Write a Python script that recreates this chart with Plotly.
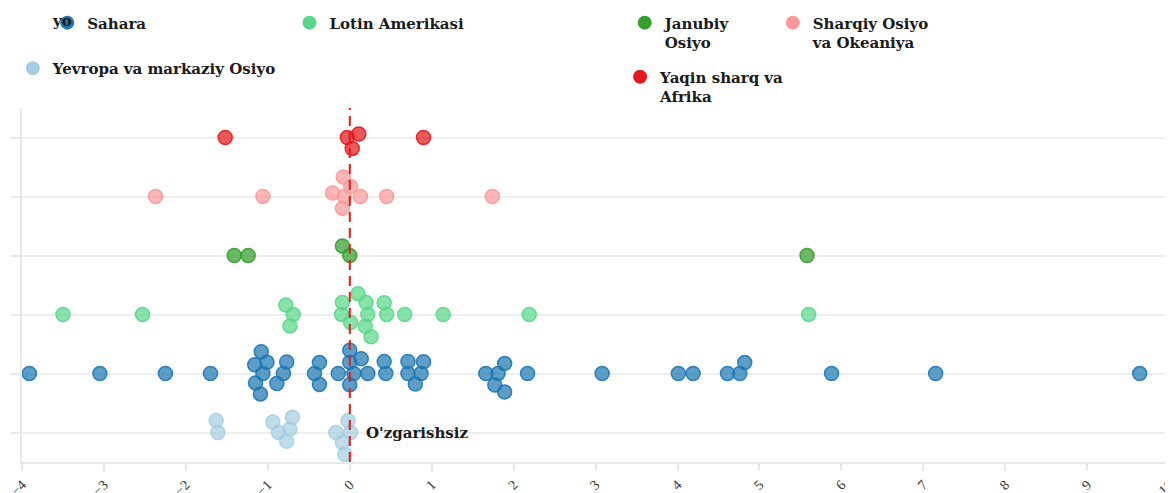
import numpy as np
import plotly.graph_objects as go

# the page adds an 8px body margin, so the figure is drawn 8px smaller
PAGE_PAD = 8
W, H = 1173 - PAGE_PAD, 493 - PAGE_PAD
MARGIN = dict(l=22 - PAGE_PAD, r=3, t=108 - PAGE_PAD, b=31, autoexpand=False)
X_RANGE = [-4, 10.01]

# categories, bottom row first
regions = [
    "Yevropa va markaziy Osiyo",
    "Sahara",
    "Lotin Amerikasi",
    "Janubiy Osiyo",
    "Sharqiy Osiyo va Okeaniya",
    "Yaqin sharq va Afrika",
]
legend_text = [
    "Yevropa va markaziy Osiyo",
    "Sahara",
    "Lotin Amerikasi",
    "Janubiy<br>Osiyo",
    "Sharqiy Osiyo<br>va Okeaniya",
    "Yaqin sharq va<br>Afrika",
]
colors = ["#a6cee3", "#1f78b4", "#5ad889", "#33a02c", "#fb9a99", "#e31a1c"]

# change values per country
yevropa = [-1.61, -0.87, -0.73, 0.01, -1.63, -0.94, -0.77, -0.70, -0.17, -0.02, -0.09, -0.06]
sahara = [-3.91, -3.05, -2.25, -1.70, -1.06, -0.81, -0.43, -0.14, 0.05, 0.22, 0.44, 0.87,
          1.81, 2.17, 3.08, 4.01, 4.19, 4.76, 5.88, 7.15, 9.64,
          -1.01, -1.16, -1.15, -1.09, -1.08, -0.77, -0.89, -0.37, -0.37, 0.00, 0.00, 0.00,
          0.14, 0.42, 0.71, 0.71, 0.90, 0.80, 1.66, 1.89, 1.77, 1.89, 4.61, 4.82]
lotin = [-3.50, -2.53, -0.69, -0.10, 0.22, 0.45, 0.67, 1.14, 2.19, 5.60,
         -0.78, -0.73, -0.09, 0.20, 0.19, 0.42, 0.01, 0.26, 0.10]
janubiy = [-1.41, -1.24, 0.00, 5.58, -0.09]
sharqiy = [-2.37, -1.06, -0.07, 0.13, 0.45, 1.74, 0.01, -0.21, -0.09, -0.08]
yaqin = [-1.52, -0.03, 0.90, 0.11, 0.03]

series = [yevropa, sahara, lotin, janubiy, sharqiy, yaqin]

# legend placement (paper coords)
legend_pos = [(-0.008, 1.158), (0.022, 1.287), (0.233, 1.287), (0.525, 1.287), (0.654, 1.287), (0.521, 1.134)]

PLOT_W = W - MARGIN["l"] - MARGIN["r"]
PLOT_H = H - MARGIN["t"] - MARGIN["b"]
PX_X = PLOT_W / (X_RANGE[1] - X_RANGE[0])
PX_Y = PLOT_H / len(regions)
DIAM = 12.0


def swarm(values):
    """Greedy beeswarm: returns vertical pixel offsets (positive = up)."""
    placed, out = [], []
    for v in values:
        x = v * PX_X
        bad = []
        for px, py in placed:
            dx = abs(px - x)
            if dx < DIAM:
                h = np.sqrt(DIAM * DIAM - dx * dx)
                bad.append((py - h, py + h))
        cands = [0.0] + [b for iv in bad for b in iv]
        cands.sort(key=lambda c: (round(abs(c), 3), -c))
        y = 0.0
        for c in cands:
            if all(not (lo + 1e-6 < c < hi - 1e-6) for lo, hi in bad):
                y = c
                break
        placed.append((x, y))
        out.append(y)
    return out


def rgba(hex_col, a):
    h = hex_col.lstrip("#")
    r, g, b = (int(h[k:k + 2], 16) for k in (0, 2, 4))
    return f"rgba({r},{g},{b},{a})"


fig = go.Figure()

for i, (vals, col) in enumerate(zip(series, colors)):
    offs = swarm(vals)
    fig.add_trace(go.Scatter(
        x=vals,
        y=[i + o / PX_Y for o in offs],
        mode="markers",
        marker=dict(size=14, color=rgba(col, 0.72), line=dict(color=rgba(col, 0.9), width=1.5)),
        name=regions[i],
        showlegend=False,
        hovertemplate="%{x}<extra>" + regions[i] + "</extra>",
    ))

# legend-only traces so the legend symbols stay solid
for i, col in enumerate(colors):
    lg = "legend" if i == 0 else f"legend{i + 1}"
    fig.add_trace(go.Scatter(
        x=[None], y=[None], mode="markers",
        marker=dict(size=16, color=col, line=dict(color=col, width=4)),
        name=legend_text[i], legend=lg, showlegend=True,
    ))

legend_font = dict(family="DejaVu Serif", size=15, color="#1a1a1a", weight="bold")
legends = {}
for i, (lx, ly) in enumerate(legend_pos):
    key = "legend" if i == 0 else f"legend{i + 1}"
    legends[key] = dict(
        x=lx, y=ly, xanchor="left", yanchor="top",
        bgcolor="rgba(0,0,0,0)", font=legend_font, valign="top",
        itemsizing="constant",
    )

fig.add_shape(type="line", xref="x", yref="paper", x0=0, x1=0, y0=0, y1=1,
              line=dict(color="#e31a1c", width=2, dash="10px,6px"))

fig.add_annotation(x=0, y=0, xref="x", yref="y", text="O'zgarishsiz",
                   showarrow=False, xanchor="left", xshift=14,
                   font=dict(family="DejaVu Serif", size=15, color="#1a1a1a", weight="bold"))
# stray label fragment sitting over the first legend marker (screen px 62, 21)
fig.add_annotation(x=(62 - 22) / PLOT_W, y=1 + (108 - 21) / PLOT_H,
                   xref="paper", yref="paper", text="yo", showarrow=False,
                   xanchor="center", yanchor="middle",
                   font=dict(family="DejaVu Serif", size=15, color="#1a1a1a", weight="bold"))

fig.update_layout(
    width=W, height=H,
    margin=MARGIN,
    plot_bgcolor="white", paper_bgcolor="white",
    **legends,
)

fig.update_xaxes(
    range=X_RANGE, dtick=1, showgrid=False, zeroline=False,
    showline=True, linecolor="#e8e8e8", linewidth=2,
    ticks="outside", ticklen=7, tickwidth=2, tickcolor="#e8e8e8",
    tickangle=-45, ticklabeloverflow="allow",
    tickfont=dict(family="Liberation Serif", size=14, color="#333"),
    automargin=False,
)
fig.update_yaxes(
    range=[-0.5, len(regions) - 0.5], tickvals=list(range(len(regions))),
    showticklabels=False, showgrid=True, gridcolor="#eeeeee", gridwidth=2,
    zeroline=False, showline=True, linecolor="#e8e8e8", linewidth=2,
    ticks="outside", ticklen=9, tickwidth=2, tickcolor="#e8e8e8",
    automargin=False,
)

fig.write_html("out.html")
